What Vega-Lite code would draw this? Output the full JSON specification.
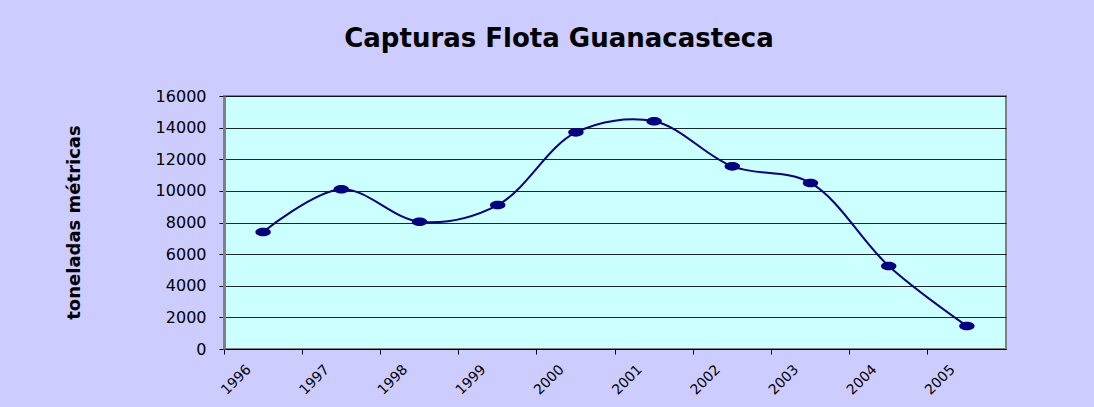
{
  "$schema": "https://vega.github.io/schema/vega-lite/v6.json",
  "autosize": {"type": "none"},
  "padding": {"left": 224, "top": 96, "right": 88, "bottom": 58},
  "width": 782,
  "height": 253,
  "background": "#CCCCFF",
  "title": {
    "text": "Capturas Flota Guanacasteca",
    "font": "DejaVu Sans",
    "fontSize": 26,
    "fontWeight": "bold",
    "color": "#000000",
    "anchor": "middle",
    "dx": -56,
    "offset": 36
  },
  "data": {
    "values": [
      {"anio": "1996", "toneladas": 7400},
      {"anio": "1997", "toneladas": 10100},
      {"anio": "1998", "toneladas": 8050},
      {"anio": "1999", "toneladas": 9100},
      {"anio": "2000", "toneladas": 13700},
      {"anio": "2001", "toneladas": 14400},
      {"anio": "2002", "toneladas": 11550},
      {"anio": "2003", "toneladas": 10500},
      {"anio": "2004", "toneladas": 5250},
      {"anio": "2005", "toneladas": 1450}
    ]
  },
  "config": {
    "view": {"fill": "#CCFFFF", "stroke": "#808080", "strokeWidth": 2},
    "axis": {"labelFont": "DejaVu Sans", "labelColor": "#000000", "tickColor": "#000000"}
  },
  "encoding": {
    "x": {
      "field": "anio",
      "type": "ordinal",
      "scale": {"type": "band", "paddingInner": 0, "paddingOuter": 0},
      "axis": {
        "title": null,
        "bandPosition": 0,
        "labelAngle": -45,
        "labelAlign": "right",
        "labelBaseline": "middle",
        "labelOffset": -14,
        "labelPadding": 13,
        "labelFontSize": 14,
        "domainColor": "#000000",
        "tickSize": 5,
        "grid": false
      }
    },
    "y": {
      "field": "toneladas",
      "type": "quantitative",
      "scale": {"domain": [0, 16000], "nice": false},
      "axis": {
        "title": "toneladas métricas",
        "titleFont": "DejaVu Sans",
        "titleFontSize": 18,
        "titleFontWeight": "bold",
        "titleColor": "#000000",
        "titleX": -150,
        "titleY": 126,
        "titleAngle": -90,
        "titleAlign": "center",
        "titleBaseline": "middle",
        "values": [0, 2000, 4000, 6000, 8000, 10000, 12000, 14000, 16000],
        "format": "d",
        "labelFontSize": 16,
        "labelPadding": 13,
        "tickSize": 5,
        "domainColor": "#808080",
        "domainWidth": 3,
        "gridColor": "#000000",
        "gridOpacity": 0.85,
        "gridWidth": 1
      }
    }
  },
  "layer": [
    {
      "mark": {"type": "line", "interpolate": "catmull-rom", "color": "#000080", "strokeWidth": 2}
    },
    {
      "mark": {
        "type": "point",
        "shape": "M -1 0 A 1 0.55 0 1 0 1 0 A 1 0.55 0 1 0 -1 0 Z",
        "size": 240,
        "filled": true,
        "opacity": 1,
        "color": "#000080"
      }
    }
  ]
}
